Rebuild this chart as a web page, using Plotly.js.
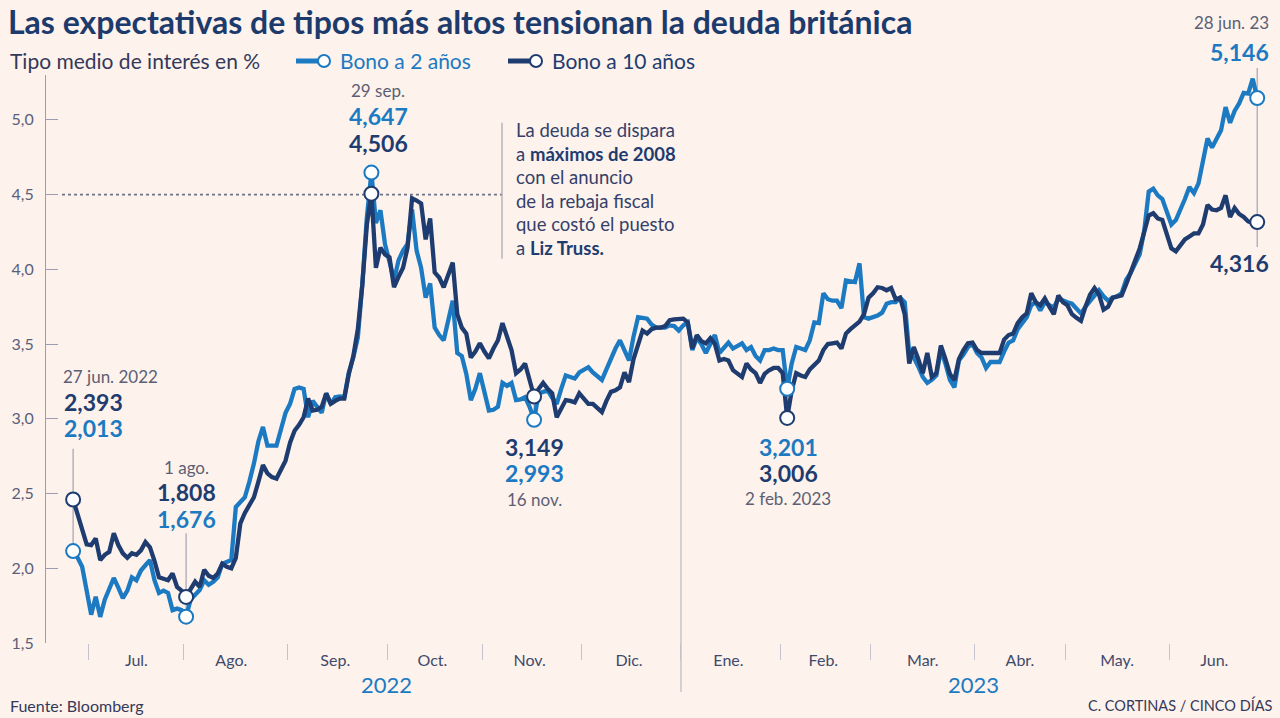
<!DOCTYPE html>
<html><head><meta charset="utf-8">
<script src="https://cdn.plot.ly/plotly-3.0.1.min.js"></script>
<style>html,body{margin:0;padding:0;background:#fdf2ec;} #chart{width:1280px;height:718px;}</style>
</head><body><div id="chart"></div>
<script>
// ---------------- DATA ----------------
const startDate = '2022-06-27';           // first trading day (weekdays only)
const seriesNames = ['Bono a 2 años', 'Bono a 10 años'];

const bono2 = [
 2.115,2.07,2.01,1.85,1.69,1.81,1.675,1.79,1.86,1.935,
 1.87,1.80,1.85,1.94,1.92,1.985,2.02,2.055,1.92,1.835,
 1.85,1.835,1.72,1.73,1.72,1.676,1.79,1.82,1.855,1.92,
 1.89,1.91,1.94,2.03,2.04,2.055,2.41,2.44,2.475,2.58,
 2.70,2.85,2.945,2.82,2.82,2.82,2.93,3.04,3.10,3.20,
 3.21,3.20,3.01,3.12,3.08,3.04,3.17,3.10,3.145,3.15,
 3.145,3.31,3.41,3.545,3.905,4.35,4.647,4.31,4.395,4.17,
 4.05,3.925,4.06,4.125,4.17,4.40,4.125,4.01,3.81,3.905,
 3.61,3.56,3.525,3.65,3.79,3.44,3.42,3.30,3.125,3.20,
 3.305,3.18,3.055,3.06,3.08,3.24,3.22,3.24,3.125,3.13,
 3.145,3.08,2.993,3.17,3.18,3.19,3.14,3.10,3.20,3.29,
 3.28,3.27,3.31,3.33,3.345,3.31,3.28,3.26,3.33,3.41,
 3.47,3.525,3.45,3.39,3.55,3.68,3.675,3.67,3.63,3.61,
 3.61,3.61,3.625,3.62,3.59,3.625,3.645,3.46,3.54,3.50,
 3.44,3.50,3.56,3.44,3.47,3.51,3.47,3.49,3.505,3.46,
 3.48,3.42,3.39,3.46,3.46,3.47,3.46,3.46,3.201,3.37,
 3.48,3.47,3.46,3.525,3.645,3.64,3.84,3.80,3.79,3.79,
 3.74,3.925,3.92,3.915,4.04,3.68,3.67,3.68,3.69,3.71,
 3.77,3.78,3.78,3.81,3.78,3.44,3.41,3.35,3.28,3.24,
 3.26,3.29,3.46,3.37,3.26,3.21,3.39,3.43,3.48,3.50,
 3.44,3.41,3.34,3.38,3.38,3.38,3.45,3.51,3.525,3.60,
 3.64,3.68,3.76,3.78,3.725,3.78,3.76,3.745,3.805,3.79,
 3.78,3.77,3.74,3.705,3.75,3.79,3.83,3.86,3.82,3.79,
 3.81,3.82,3.84,3.93,3.975,4.03,4.10,4.26,4.52,4.54,
 4.495,4.47,4.38,4.30,4.33,4.395,4.47,4.55,4.51,4.575,
 4.72,4.875,4.815,4.87,4.93,5.085,4.98,5.06,5.11,5.18,
 5.175,5.275,5.146
];

const bono10 = [
 2.46,2.36,2.26,2.16,2.155,2.20,2.055,2.09,2.11,2.235,
 2.155,2.10,2.07,2.10,2.09,2.12,2.175,2.14,2.05,1.94,
 1.93,1.92,1.965,1.875,1.85,1.808,1.86,1.91,1.875,1.99,
 1.95,1.935,1.965,2.03,2.01,2.0,2.07,2.30,2.37,2.42,
 2.475,2.58,2.69,2.635,2.61,2.60,2.66,2.72,2.84,2.92,
 2.96,3.01,3.135,3.055,3.06,3.08,3.17,3.10,3.12,3.135,
 3.135,3.30,3.42,3.60,3.90,4.30,4.506,4.01,4.145,4.10,
 4.08,3.88,3.95,4.01,4.145,4.475,4.46,4.44,4.20,4.34,
 3.98,3.945,3.88,3.96,4.045,3.70,3.61,3.57,3.41,3.45,
 3.505,3.45,3.405,3.47,3.525,3.64,3.55,3.46,3.305,3.33,
 3.37,3.26,3.149,3.20,3.24,3.20,3.17,3.01,3.07,3.125,
 3.12,3.11,3.17,3.13,3.10,3.10,3.07,3.045,3.12,3.18,
 3.19,3.21,3.31,3.245,3.40,3.505,3.59,3.57,3.60,3.61,
 3.61,3.62,3.66,3.665,3.67,3.67,3.645,3.47,3.56,3.52,
 3.505,3.54,3.50,3.39,3.40,3.39,3.325,3.30,3.28,3.37,
 3.33,3.305,3.24,3.30,3.325,3.34,3.34,3.305,3.006,3.19,
 3.305,3.29,3.28,3.33,3.36,3.39,3.46,3.50,3.505,3.51,
 3.47,3.57,3.60,3.625,3.65,3.70,3.81,3.84,3.88,3.875,
 3.86,3.875,3.80,3.81,3.70,3.37,3.48,3.40,3.305,3.44,
 3.28,3.305,3.49,3.40,3.30,3.26,3.40,3.46,3.505,3.51,
 3.46,3.44,3.44,3.44,3.44,3.44,3.53,3.56,3.57,3.64,
 3.68,3.705,3.84,3.78,3.76,3.805,3.75,3.70,3.825,3.78,
 3.76,3.70,3.675,3.655,3.75,3.83,3.875,3.83,3.73,3.75,
 3.81,3.815,3.825,3.90,3.98,4.04,4.14,4.25,4.36,4.375,
 4.34,4.33,4.24,4.14,4.12,4.16,4.20,4.22,4.24,4.24,
 4.30,4.43,4.40,4.395,4.41,4.495,4.35,4.41,4.37,4.35,
 4.32,4.31,4.316
];

const highlightDates = ['2022-06-27','2022-08-01','2022-09-27','2022-11-16','2023-02-02','2023-06-28'];

const monthLabels = ['Jul.','Ago.','Sep.','Oct.','Nov.','Dic.','Ene.','Feb.','Mar.','Abr.','May.','Jun.'];
const monthLabelDates = ['2022-07-15','2022-08-15','2022-09-15','2022-10-14 12:00','2022-11-15','2022-12-15',
                         '2023-01-16','2023-02-14','2023-03-16','2023-04-14 12:00','2023-05-16','2023-06-14 12:00'];
const monthBoundaries = ['2022-06-30 12:00','2022-07-29 12:00','2022-08-31 12:00','2022-09-30 12:00','2022-10-31 12:00',
                         '2022-11-30 12:00','2022-12-30 12:00','2023-01-31 12:00','2023-02-28 12:00','2023-03-31 12:00',
                         '2023-04-28 12:00','2023-05-31 12:00'];
const yTicks = [1.5, 2.0, 2.5, 3.0, 3.5, 4.0, 4.5, 5.0];
const yearLabels = ['2022', '2023'];
const noteLines = ['La deuda se dispara', 'a <b>máximos de 2008</b>', 'con el anuncio',
                   'de la rebaja fiscal', 'que costó el puesto', 'a <b>Liz Truss.</b>'];
const calloutTexts = {
  jun27: ['27 jun. 2022', '2,393', '2,013'],
  ago1:  ['1 ago.', '1,808', '1,676'],
  sep29: ['29 sep.', '4,647', '4,506'],
  nov16: ['3,149', '2,993', '16 nov.'],
  feb2:  ['3,201', '3,006', '2 feb. 2023'],
  jun28: ['28 jun. 23', '5,146', '4,316']
};

// ---------------- HELPERS ----------------
function weekdays(start, n) {
  const out = [];
  const d = new Date(start + 'T00:00:00Z');
  while (out.length < n) {
    const wd = d.getUTCDay();
    if (wd !== 0 && wd !== 6) out.push(d.toISOString().slice(0, 10));
    d.setUTCDate(d.getUTCDate() + 1);
  }
  return out;
}
const dates = weekdays(startDate, bono2.length);
const hIdx = highlightDates.map(s => dates.indexOf(s));

const BLUE = '#1b7ac2', NAVY = '#1e3c6f', GRAY = '#5c5f74', TXT = '#34395a', BG = '#fdf2ec', LINEG = '#a3a3b3';
const FONT = 'Lato, "Open Sans", sans-serif';

// plot box in pixels (for paper-referenced decorations)
const L = 46, R = 1264, T = 75, B = 643;
const pX = x => (x - L) / (R - L);
const pY = y => (B - y) / (B - T);

function ann(text, x, y, o) {
  o = o || {};
  return {
    text: o.bold ? '<b>' + text + '</b>' : text,
    xref: 'paper', yref: 'paper', x: pX(x), y: pY(y),
    xanchor: o.xa || 'left', yanchor: 'middle', showarrow: false, align: o.align || 'left',
    font: { family: FONT, size: o.size || 16, color: o.color || GRAY }
  };
}

// ---------------- TRACES ----------------
const traces = [
  { type: 'scatter', mode: 'lines', x: dates, y: bono2, name: seriesNames[0],
    line: { color: BLUE, width: 4.3 }, hoverinfo: 'x+y', showlegend: false },
  { type: 'scatter', mode: 'lines', x: dates, y: bono10, name: seriesNames[1],
    line: { color: NAVY, width: 4.3 }, hoverinfo: 'x+y', showlegend: false },
  { type: 'scatter', mode: 'markers', x: hIdx.map(i => dates[i]), y: hIdx.map(i => bono2[i]),
    marker: { size: 14, color: '#ffffff', line: { color: BLUE, width: 2 } }, cliponaxis: false,
    showlegend: false, hoverinfo: 'skip' },
  { type: 'scatter', mode: 'markers', x: hIdx.map(i => dates[i]), y: hIdx.map(i => bono10[i]),
    marker: { size: 14, color: '#ffffff', line: { color: NAVY, width: 2 } }, cliponaxis: false,
    showlegend: false, hoverinfo: 'skip' }
];

// ---------------- SHAPES ----------------
const lineStyle = { color: LINEG, width: 1.2 };
const shapes = [
  // 4,5 reference dotted line (máximos de 2008)
  { type: 'line', xref: 'paper', yref: 'y', x0: pX(62), x1: pX(502), y0: 4.5, y1: 4.5,
    line: { color: '#6f7285', width: 1.6, dash: 'dot' }, layer: 'below' },
  { type: 'line', xref: 'paper', yref: 'y', x0: pX(502), x1: pX(502), y0: 4.07, y1: 4.98,
    line: lineStyle, layer: 'below' },
  // year divider
  { type: 'line', xref: 'x', yref: 'paper', x0: monthBoundaries[6], x1: monthBoundaries[6],
    y0: pY(692), y1: pY(328), line: { color: '#b9b9c4', width: 1.2 }, layer: 'below' },
  // leaders
  { type: 'line', xref: 'x', yref: 'y', x0: dates[hIdx[0]], x1: dates[hIdx[0]], y0: bono2[hIdx[0]], y1: 2.80,
    line: lineStyle, layer: 'below' },
  { type: 'line', xref: 'x', yref: 'y', x0: dates[hIdx[1]], x1: dates[hIdx[1]], y0: bono2[hIdx[1]], y1: 2.235,
    line: lineStyle, layer: 'below' },
  { type: 'line', xref: 'x', yref: 'y', x0: dates[hIdx[3]], x1: dates[hIdx[3]], y0: bono2[hIdx[3]], y1: bono10[hIdx[3]],
    line: lineStyle, layer: 'below' },
  { type: 'line', xref: 'x', yref: 'y', x0: dates[hIdx[4]], x1: dates[hIdx[4]], y0: bono10[hIdx[4]], y1: bono2[hIdx[4]],
    line: lineStyle, layer: 'below' },
  { type: 'line', xref: 'x', yref: 'paper', x0: dates[hIdx[5]], x1: dates[hIdx[5]], y0: pY(247), y1: pY(68),
    line: lineStyle, layer: 'below' },
  // custom legend
  { type: 'line', xref: 'paper', yref: 'paper', x0: pX(296), x1: pX(322), y0: pY(61), y1: pY(61),
    line: { color: BLUE, width: 5 } },
  { type: 'circle', xref: 'paper', yref: 'paper', x0: pX(318), x1: pX(330), y0: pY(67), y1: pY(55),
    fillcolor: '#ffffff', line: { color: BLUE, width: 2 } },
  { type: 'line', xref: 'paper', yref: 'paper', x0: pX(508), x1: pX(534), y0: pY(61), y1: pY(61),
    line: { color: NAVY, width: 5 } },
  { type: 'circle', xref: 'paper', yref: 'paper', x0: pX(530), x1: pX(542), y0: pY(67), y1: pY(55),
    fillcolor: '#ffffff', line: { color: NAVY, width: 2 } }
];

// ---------------- ANNOTATIONS ----------------
const BIG = 23;
const annotations = [
  ann('Tipo medio de interés en %', 8, 61, { size: 21, color: TXT }),
  ann(seriesNames[0], 338, 61, { size: 21, color: BLUE }),
  ann(seriesNames[1], 550, 61, { size: 21, color: NAVY }),

  ann(calloutTexts.jun27[0], 61, 376, { size: 17 }),
  ann(calloutTexts.jun27[1], 62, 402, { size: BIG, bold: true, color: NAVY }),
  ann(calloutTexts.jun27[2], 62, 428, { size: BIG, bold: true, color: BLUE }),

  ann(calloutTexts.ago1[0], 186, 467, { size: 17, xa: 'center' }),
  ann(calloutTexts.ago1[1], 186, 492, { size: BIG, bold: true, color: NAVY, xa: 'center' }),
  ann(calloutTexts.ago1[2], 186, 519, { size: BIG, bold: true, color: BLUE, xa: 'center' }),

  ann(calloutTexts.sep29[0], 378, 90, { size: 17, xa: 'center' }),
  ann(calloutTexts.sep29[1], 378, 116, { size: BIG, bold: true, color: BLUE, xa: 'center' }),
  ann(calloutTexts.sep29[2], 378, 143, { size: BIG, bold: true, color: NAVY, xa: 'center' }),

  ...noteLines.map((t, i) => ({
    text: t.replace(/<b>/g, '<b><span style="color:' + NAVY + '">').replace(/<\/b>/g, '</span></b>'),
    xref: 'paper', yref: 'paper', x: pX(514), y: pY(130 + i * 23.6), xanchor: 'left', yanchor: 'middle',
    align: 'left', showarrow: false, font: { family: FONT, size: 18.5, color: '#34406a' } })),

  ann(calloutTexts.nov16[0], 534, 447, { size: BIG, bold: true, color: NAVY, xa: 'center' }),
  ann(calloutTexts.nov16[1], 534, 473, { size: BIG, bold: true, color: BLUE, xa: 'center' }),
  ann(calloutTexts.nov16[2], 534, 500, { size: 17, xa: 'center' }),

  ann(calloutTexts.feb2[0], 788, 447, { size: BIG, bold: true, color: BLUE, xa: 'center' }),
  ann(calloutTexts.feb2[1], 788, 473, { size: BIG, bold: true, color: NAVY, xa: 'center' }),
  ann(calloutTexts.feb2[2], 788, 498, { size: 17, xa: 'center' }),

  ann(calloutTexts.jun28[0], 1271, 23, { size: 17, xa: 'right' }),
  ann(calloutTexts.jun28[1], 1271, 52, { size: BIG, bold: true, color: BLUE, xa: 'right' }),
  ann(calloutTexts.jun28[2], 1271, 263, { size: BIG, bold: true, color: NAVY, xa: 'right' }),

  ann(yearLabels[0], 386, 684, { size: 22, color: BLUE, xa: 'center' }),
  ann(yearLabels[1], 973, 684, { size: 22, color: BLUE, xa: 'center' }),

  ann('Fuente: Bloomberg', 8, 705, { size: 16, color: TXT }),
  ann('C. CORTINAS / CINCO DÍAS', 1275, 705, { size: 14.5, color: TXT, xa: 'right' })
];

// ---------------- LAYOUT ----------------
const layout = {
  width: 1280, height: 718,
  margin: { l: L, r: 1280 - R, t: T, b: 718 - B, pad: 0 },
  paper_bgcolor: BG, plot_bgcolor: BG,
  separators: ',.',
  font: { family: FONT, color: TXT },
  showlegend: false,
  title: { text: 'Las expectativas de tipos más altos tensionan la deuda británica',
           x: 8 / 1280, xanchor: 'left', xref: 'container',
           y: 1 - 23 / 718, yanchor: 'middle', yref: 'container',
           font: { family: FONT, size: 32, color: '#1c3b6c', weight: 700 } },
  xaxis: {
    type: 'date',
    range: ['2022-06-17', '2023-06-29 12:00'],
    rangebreaks: [{ bounds: ['sat', 'mon'] }],
    tickmode: 'array', tickvals: monthLabelDates, ticktext: monthLabels,
    ticks: '', showline: false, showgrid: false, zeroline: false,
    tickfont: { family: FONT, size: 16, color: '#3f4a6b' },
    ticklabelstandoff: 6,
    minor: { tickmode: 'array', tickvals: monthBoundaries, ticks: 'outside', ticklen: 16,
             tickcolor: '#c3c3cc', tickwidth: 1, showgrid: false },
    fixedrange: true
  },
  yaxis: {
    range: [1.5, 5.3],
    tickmode: 'array', tickvals: yTicks, tickformat: '.1f',
    ticks: 'inside', ticklen: 12, tickcolor: '#9d9db0', tickwidth: 1,
    showline: true, linecolor: '#9d9db0', linewidth: 1,
    showgrid: false, zeroline: false,
    tickfont: { family: FONT, size: 16, color: '#5a5f7a' },
    ticklabelstandoff: 8,
    fixedrange: true
  },
  shapes: shapes,
  annotations: annotations
};

Plotly.newPlot('chart', traces, layout, { displayModeBar: false, staticPlot: true });
</script>
</body></html>
